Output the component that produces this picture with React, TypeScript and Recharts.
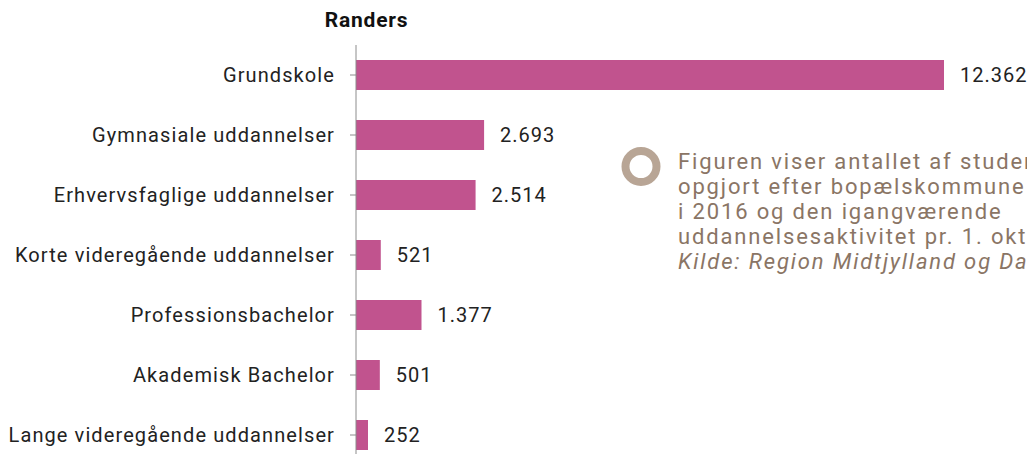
import React from 'react';
import { BarChart, Bar, XAxis, YAxis, LabelList } from 'recharts';

const categories = [
  'Grundskole',
  'Gymnasiale uddannelser',
  'Erhvervsfaglige uddannelser',
  'Korte videregående uddannelser',
  'Professionsbachelor',
  'Akademisk Bachelor',
  'Lange videregående uddannelser',
];
const students = [12362, 2693, 2514, 521, 1377, 501, 252];

const noteLines = [
  'Figuren viser antallet af studerende',
  'opgjort efter bopælskommune',
  'i 2016 og den igangværende',
  'uddannelsesaktivitet pr. 1. oktober',
];
const sourceLine = 'Kilde: Region Midtjylland og Danmarks Statistik';

const data = categories.map((name, i) => ({ name, value: students[i] }));

// Danish thousands separator
const fmt = (v: any) => String(v).replace(/\B(?=(\d{3})+(?!\d))/g, '.');

const FONT = 'Roboto, "Noto Sans", sans-serif';

export default function App() {
  return (
    <div style={{ position: 'absolute', left: 0, top: 0, width: 1027, height: 454, overflow: 'hidden', background: '#fff', fontFamily: FONT }}>
      <div style={{ position: 'absolute', left: 0, width: 733, top: 8, textAlign: 'center', fontWeight: 'bold', fontSize: 21, letterSpacing: 0.8, color: '#111' }}>
        Randers
      </div>

      <BarChart
        width={1027}
        height={470}
        data={data}
        layout="vertical"
        margin={{ top: 45, right: 83, left: 0, bottom: 5 }}
        barCategoryGap={0}
      >
        <XAxis type="number" hide domain={[0, 'dataMax']} />
        <YAxis
          type="category"
          dataKey="name"
          width={356}
          interval={0}
          tickSize={6}
          tickMargin={15}
          axisLine={{ stroke: '#8c8c8c' }}
          tickLine={{ stroke: '#8c8c8c' }}
          tick={{ fill: '#222', fontSize: 20, letterSpacing: 1.1, fontFamily: FONT }}
        />
        <Bar dataKey="value" fill="#c1538e" barSize={30} isAnimationActive={false}>
          <LabelList
            dataKey="value"
            position="right"
            offset={16}
            formatter={fmt}
            style={{ fill: '#222', fontSize: 20, letterSpacing: 1, fontFamily: FONT }}
          />
        </Bar>
      </BarChart>

      <svg style={{ position: 'absolute', left: 620, top: 145 }} width={44} height={44}>
        <circle cx={21} cy={21.5} r={15.5} fill="none" stroke="#b8a595" strokeWidth={8} />
      </svg>

      <div style={{ position: 'absolute', left: 678, top: 149, color: '#8a7565', fontSize: 22, lineHeight: '25px', letterSpacing: 1.85, whiteSpace: 'nowrap' }}>
        {noteLines.map((l) => (
          <div key={l}>{l}</div>
        ))}
        <div style={{ fontStyle: 'italic' }}>{sourceLine}</div>
      </div>
    </div>
  );
}
